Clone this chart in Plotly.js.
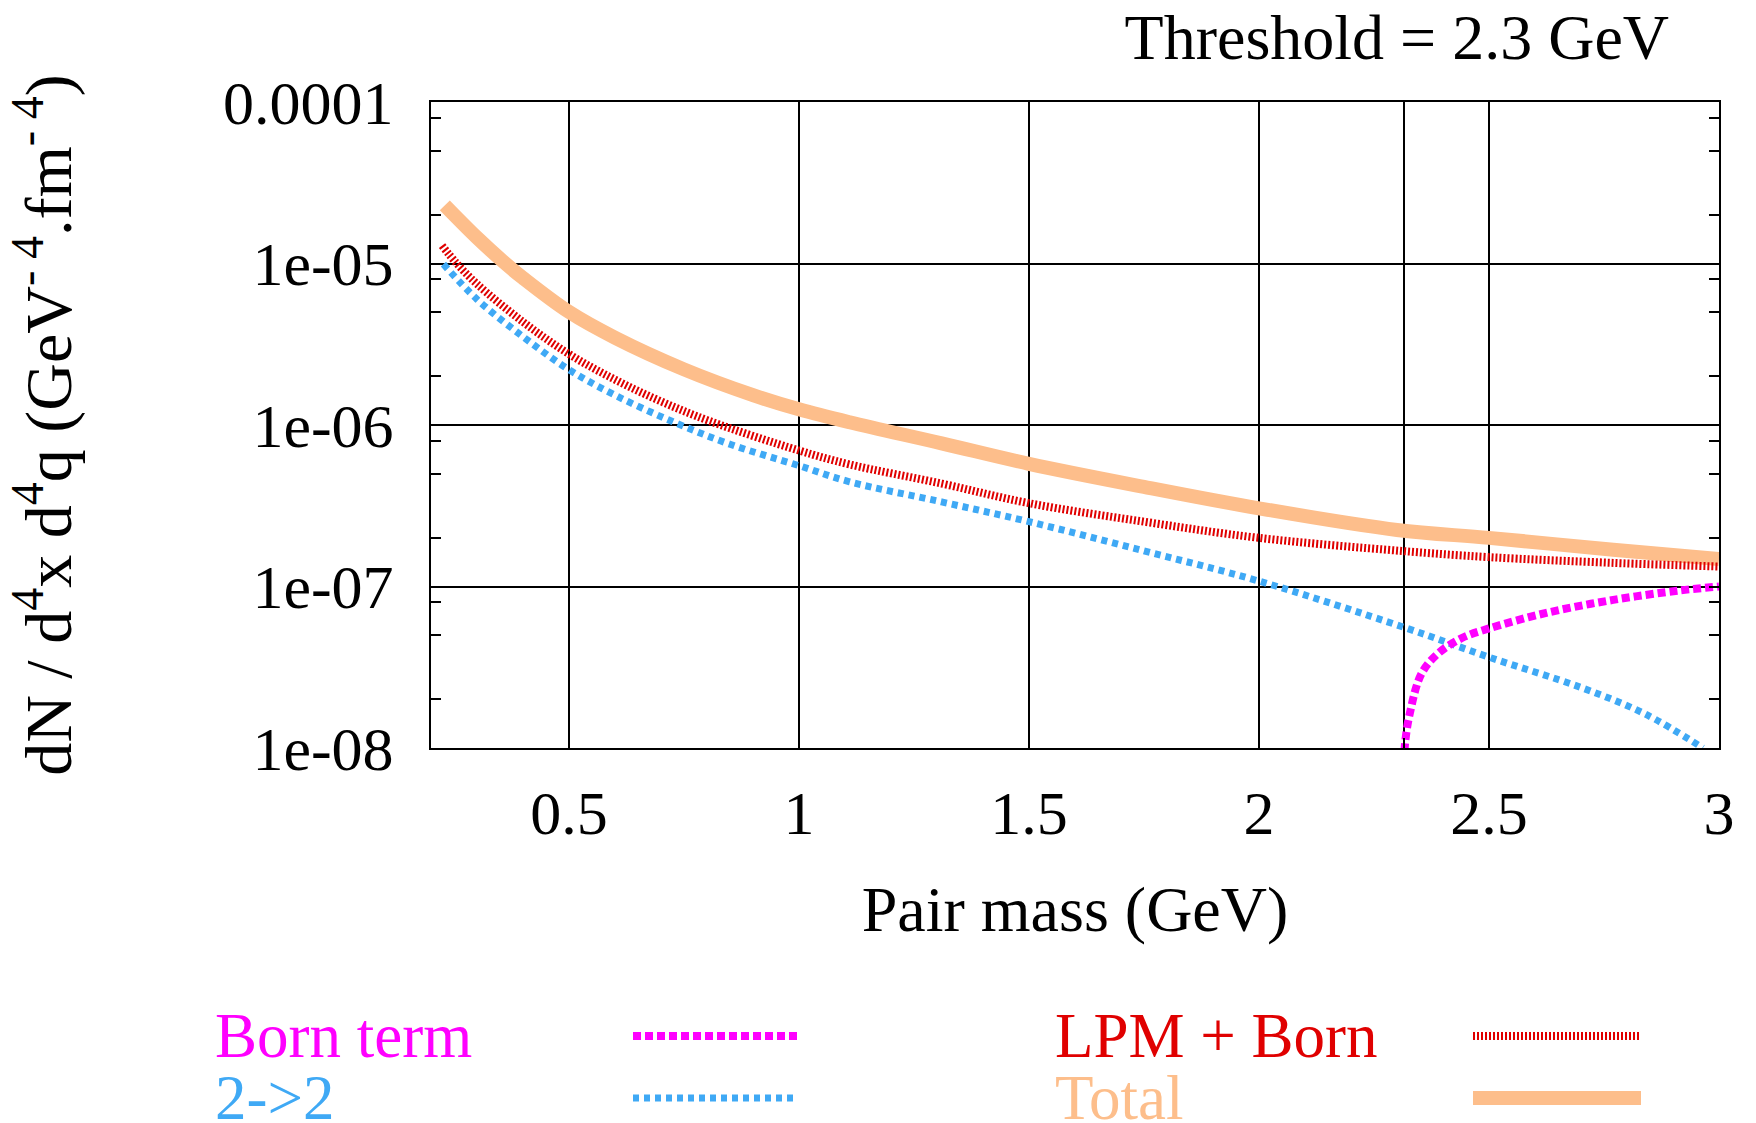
<!DOCTYPE html>
<html>
<head>
<meta charset="utf-8">
<script src="https://cdn.plot.ly/plotly-3.0.1.min.js"></script>
<style>
  html, body { margin: 0; padding: 0; background: #ffffff; }
  #chart { width: 1756px; height: 1123px; }
</style>
</head>
<body>
<div id="chart"></div>
<script>
// ---- data ----
const bornMass   = [2.315, 2.318, 2.3275, 2.353, 2.389, 2.44, 2.5, 2.628, 2.77, 2.913, 3.0];
const bornRate   = [8e-9, 1.1e-8, 1.62e-8, 2.88e-8, 3.84e-8, 4.78e-8, 5.5e-8, 6.9e-8, 8.26e-8, 9.44e-8, 1.0e-7];

const lpmMass    = [0.224, 0.256, 0.3, 0.4, 0.5, 0.6, 0.7, 0.805, 1.0, 1.11, 1.31, 1.5, 1.75, 2.0, 2.31, 2.5, 2.77, 3.0];
const lpmRate    = [1.29e-5, 1.0e-5, 7.46e-6, 4.35e-6, 2.75e-6, 1.91e-6, 1.40e-6, 1.06e-6, 6.95e-7, 5.7e-7, 4.34e-7, 3.28e-7, 2.52e-7, 2.0e-7, 1.66e-7, 1.52e-7, 1.40e-7, 1.33e-7];

const twoMass    = [0.227, 0.3, 0.4, 0.5, 0.6, 0.725, 0.85, 1.0, 1.11, 1.31, 1.5, 1.75, 2.0, 2.314, 2.5, 2.7, 2.84, 2.965];
const twoRate    = [9.9e-6, 6.0e-6, 3.52e-6, 2.2e-6, 1.53e-6, 1.05e-6, 7.6e-7, 5.6e-7, 4.45e-7, 3.34e-7, 2.52e-7, 1.66e-7, 1.08e-7, 5.6e-8, 3.65e-8, 2.37e-8, 1.62e-8, 1.0e-8];

const totalMass  = [0.23, 0.3, 0.36, 0.4, 0.5, 0.6, 0.75, 0.9, 1.0, 1.11, 1.31, 1.5, 1.75, 2.0, 2.3, 2.5, 2.77, 3.0];
const totalRate  = [2.29e-5, 1.445e-5, 1.01e-5, 8.13e-6, 5.01e-6, 3.47e-6, 2.21e-6, 1.53e-6, 1.25e-6, 1.04e-6, 7.7e-7, 5.75e-7, 4.14e-7, 3.05e-7, 2.24e-7, 2.0e-7, 1.69e-7, 1.48e-7];

const xTickVals  = [0.5, 1, 1.5, 2, 2.315, 2.5, 3];
const xTickText  = ['0.5', '1', '1.5', '2', '', '2.5', '3'];
const yTickVals  = [1e-8, 1e-7, 1e-6, 1e-5, 1e-4];
const yTickText  = ['1e-08', '1e-07', '1e-06', '1e-05', '0.0001'];
const yMinorVals = [2e-8, 5e-8, 8e-8, 2e-7, 5e-7, 8e-7, 2e-6, 5e-6, 8e-6, 2e-5, 5e-5, 8e-5];

const seriesNames = ['Born term', 'LPM + Born', '2-&gt;2', 'Total'];

// ---- styles ----
const FONT = 'Liberation Serif, Times New Roman, serif';
const styles = [
  {color: '#ff00ff', width: 8,  dash: '8px,4px'},
  {color: '#e00000', width: 8,  dash: '2px,2px'},
  {color: '#3fa9f5', width: 7,  dash: '6px,5px'},
  {color: '#fdbe8b', width: 14, dash: 'solid'}
];
const xs = [bornMass, lpmMass, twoMass, totalMass];
const ys = [bornRate, lpmRate, twoRate, totalRate];

// draw order: total first (bottom), then lpm, 2->2, born
const order = [3, 1, 2, 0];
const traces = order.map(i => ({
  type: 'scatter', mode: 'lines', name: seriesNames[i],
  x: xs[i], y: ys[i],
  line: {color: styles[i].color, width: styles[i].width, dash: styles[i].dash, shape: 'spline', smoothing: 1.0},
  hoverinfo: 'x+y+name'
}));

// page geometry (px) -> paper coords
const L = 431, R = 1719, T = 102, B = 748;
const W = R - L, H = B - T;
const px2x = px => (px - L) / W;
const py2y = py => (B - py) / H;

// manual legend: label first, sample to the right (as in reference)
const legendPos = [
  {tx: 213,  ty: 1036, s0: 633,  s1: 797},
  {tx: 1053, ty: 1036, s0: 1473, s1: 1641},
  {tx: 213,  ty: 1098, s0: 633,  s1: 797},
  {tx: 1053, ty: 1098, s0: 1473, s1: 1641}
];
const annotations = seriesNames.map((n, i) => ({
  xref: 'paper', yref: 'paper', x: px2x(legendPos[i].tx), y: py2y(legendPos[i].ty),
  xanchor: 'left', yanchor: 'middle', showarrow: false, text: n,
  font: {family: FONT, size: 63, color: styles[i].color}
}));
const shapes = seriesNames.map((n, i) => ({
  type: 'line', xref: 'paper', yref: 'paper',
  x0: px2x(legendPos[i].s0), x1: px2x(legendPos[i].s1),
  y0: py2y(legendPos[i].ty), y1: py2y(legendPos[i].ty),
  line: {color: styles[i].color, width: styles[i].width, dash: styles[i].dash}
}));

const axisCommon = {
  showline: true, linecolor: '#000', linewidth: 2, mirror: 'ticks',
  showgrid: true, gridcolor: '#000', gridwidth: 2,
  ticks: 'inside', ticklen: 10, tickwidth: 2, tickcolor: '#000',
  zeroline: false, automargin: false,
  tickfont: {family: FONT, size: 62, color: '#000'}
};

const layout = {
  width: 1756, height: 1123,
  margin: {l: L, r: 1756 - R, t: T, b: 1123 - B, pad: 0},
  paper_bgcolor: '#fff', plot_bgcolor: '#fff',
  showlegend: false,
  title: {
    text: 'Threshold = 2.3 GeV', xref: 'container', yref: 'container',
    x: 1669 / 1756, xanchor: 'right', y: 1 - 37 / 1123, yanchor: 'middle',
    font: {family: FONT, size: 64, color: '#000'}
  },
  xaxis: Object.assign({}, axisCommon, {
    range: [0.2, 3], tickmode: 'array', tickvals: xTickVals, ticktext: xTickText,
    ticklabelstandoff: 10,
    title: {text: 'Pair mass (GeV)', standoff: 40, font: {family: FONT, size: 64, color: '#000'}}
  }),
  yaxis: Object.assign({}, axisCommon, {
    type: 'log', range: [-8, -4], tickmode: 'array', tickvals: yTickVals, ticktext: yTickText,
    ticklabelstandoff: 23,
    minor: {tickmode: 'array', tickvals: yMinorVals, ticks: 'inside', ticklen: 10, tickwidth: 2, tickcolor: '#000', showgrid: false},
    title: {text: 'dN / d<sup>4</sup>x d<sup>4</sup>q (GeV<sup>- 4</sup>.fm<sup>- 4</sup>)', standoff: 130,
            font: {family: FONT, size: 66, color: '#000'}}
  }),
  annotations: annotations,
  shapes: shapes
};

Plotly.newPlot('chart', traces, layout, {displayModeBar: false, staticPlot: true});
</script>
</body>
</html>
